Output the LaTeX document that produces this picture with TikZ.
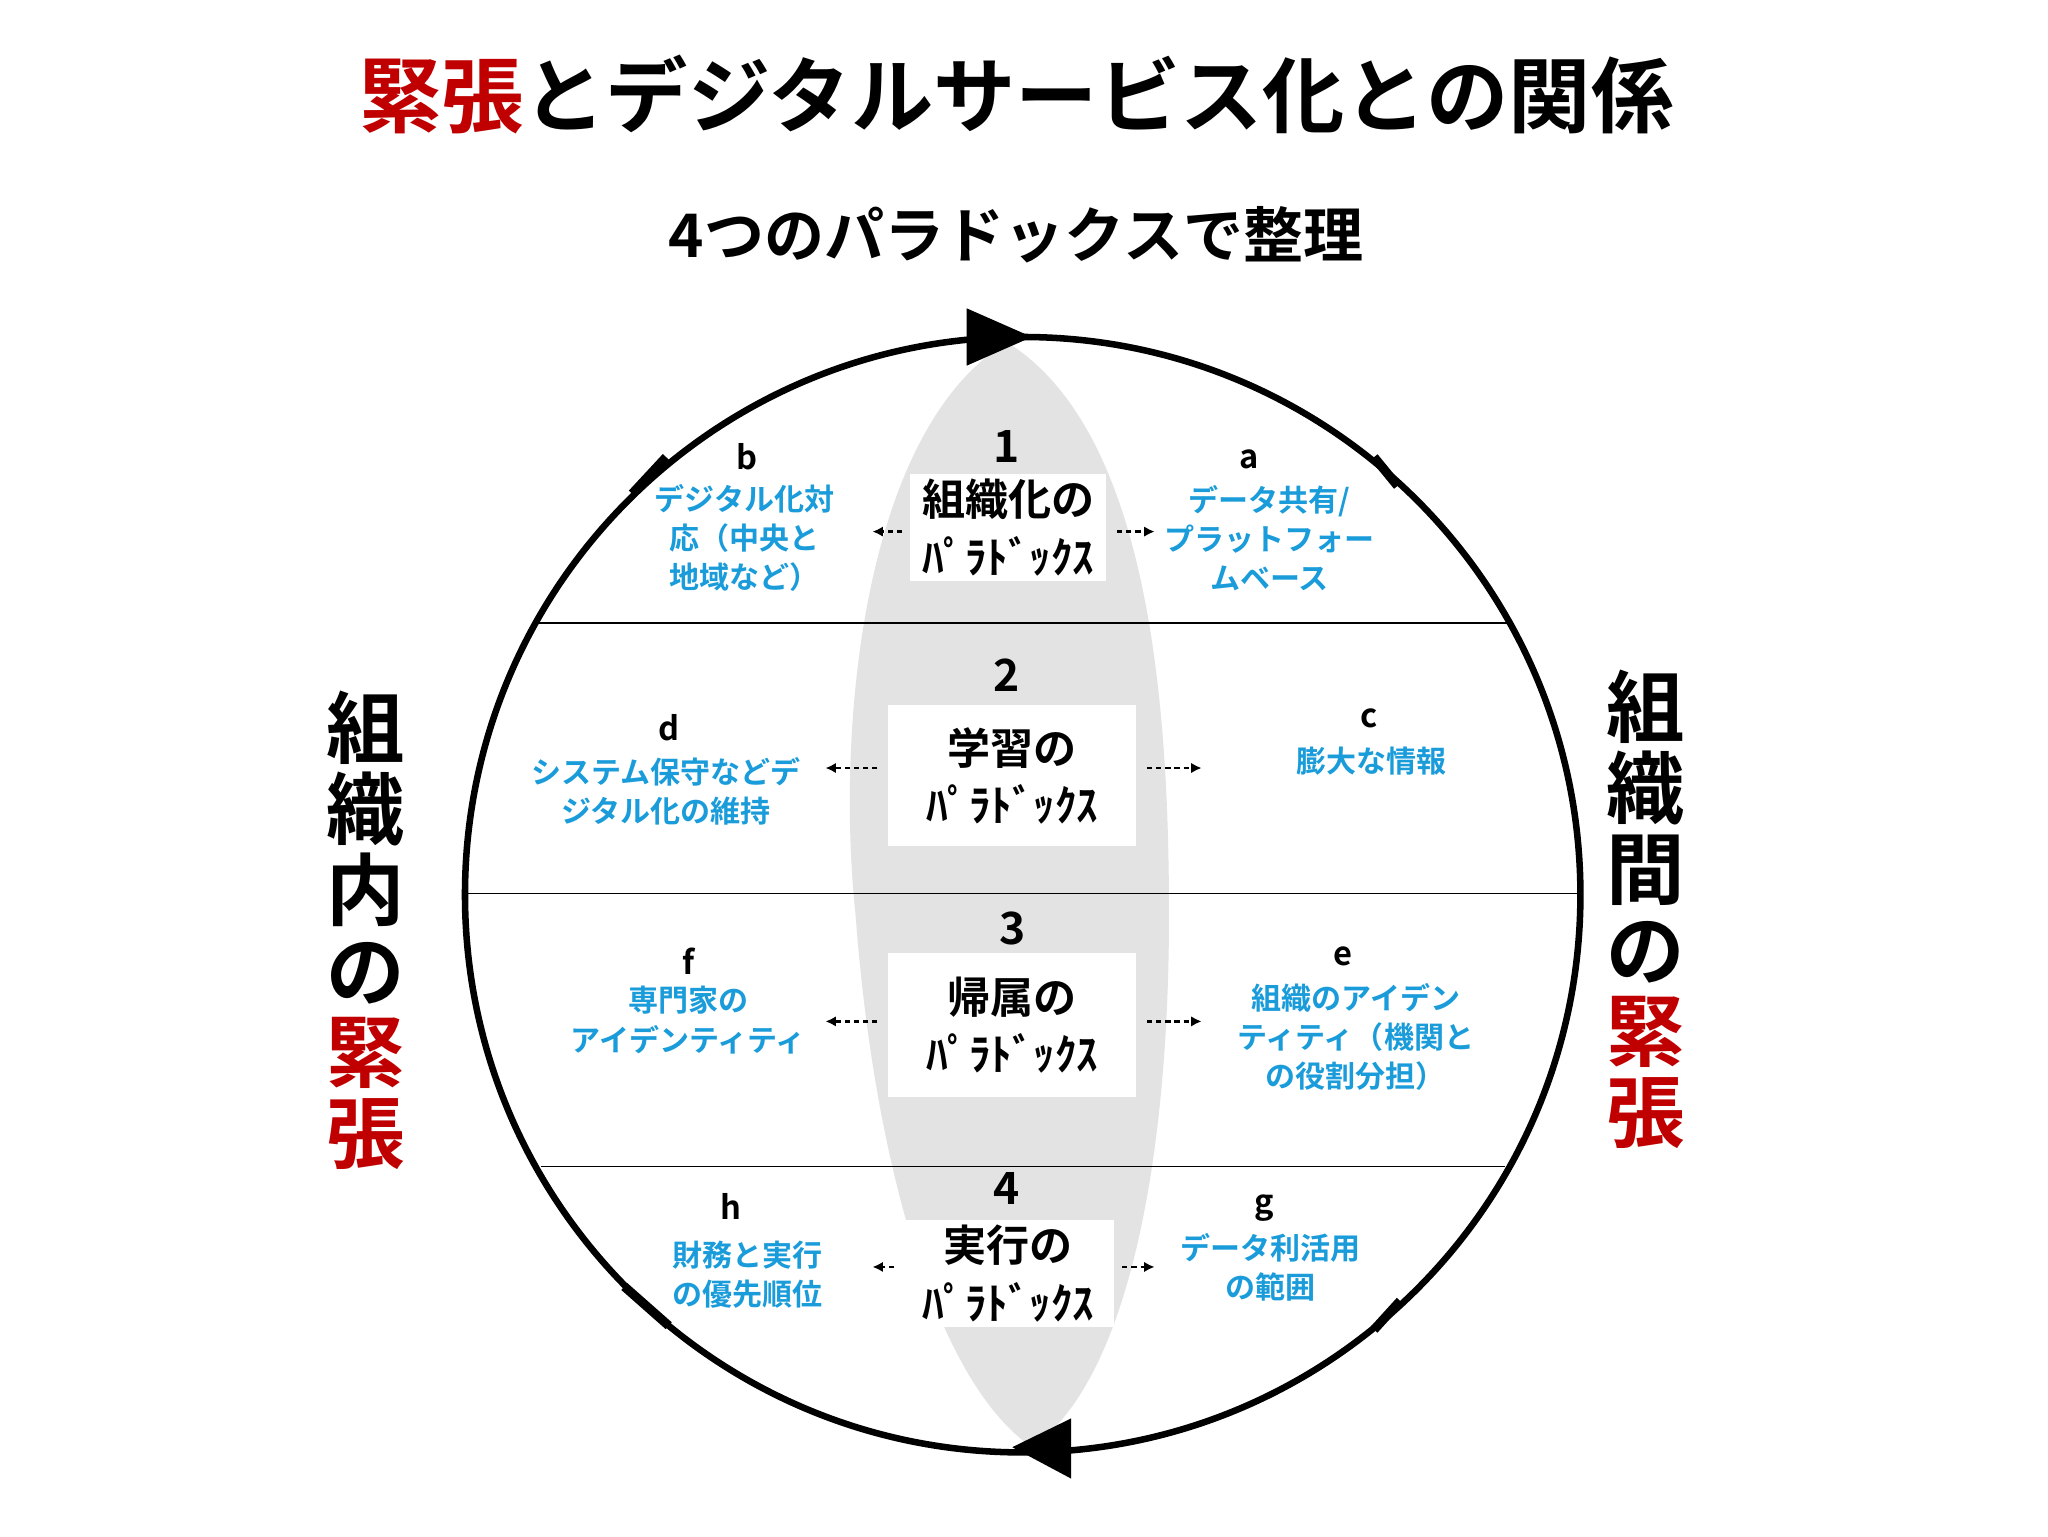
\documentclass[tikz,border=0pt]{standalone}
\usepackage{fontspec}
\setmainfont{Noto Sans CJK JP}[BoldFont=* Bold]
\newfontfamily\jpb{Noto Sans CJK JP Bold}
\usetikzlibrary{arrows.meta}
\definecolor{tblue}{HTML}{1A9CDA}
\definecolor{tred}{HTML}{C00000}
\tikzset{
 blab/.style={text=tblue,font=\jpb\fontsize{23}{30}\selectfont,align=center},
 let/.style={font=\jpb\fontsize{25}{26}\selectfont},
 num/.style={font=\jpb\fontsize{34}{36}\selectfont},
 pbox/.style={fill=white,align=center,font=\jpb\fontsize{33}{44}\selectfont,inner sep=4pt},
 darr/.style={dash pattern=on 4pt off 3pt,line width=1.8pt,-{Latex[length=8pt,width=8pt]}},
 side/.style={font=\jpb\fontsize{60}{62}\selectfont,align=center},
}
\begin{document}
\begin{tikzpicture}[x=1pt,y=-1pt]
\useasboundingbox (0,0) rectangle (1568,1176);
\fill[white] (0,0) rectangle (1568,1176);
\node[font=\jpb\fontsize{63}{66}\selectfont] (title) at (778,72) {\textcolor{tred}{緊張}とデジタルサービス化との関係};
\node[font=\jpb\fontsize{46}{48}\selectfont] (sub) at (778,180) {4つのパラドックスで整理};
% lens
\fill[gray!22] (771,262) .. controls (660,330) and (640,560) .. (655,700) .. controls (670,900) and (720,1060) .. (790,1108) .. controls (860,1060) and (895,900) .. (895,700) .. controls (895,540) and (880,330) .. (771,262);
% chords
\draw[line width=1.3pt] (410,477) -- (1156,477);
\draw[line width=1.3pt] (356,684) -- (1210,684);
\draw[line width=1.3pt] (414,893) -- (1152,893);
% circle
\draw[line width=5pt] (783,685) circle (427);
% ticks
\draw[line width=7pt] (484,378) -- (510,350);
\draw[line width=7pt] (1052,350) -- (1070,372);
\draw[line width=7pt] (478,985) -- (512,1015);
\draw[line width=7pt] (1052,1018) -- (1072,996);
% big arrowheads
\fill (740,236) -- (790,258) -- (740,280) -- cycle;
\fill (820,1086) -- (775,1108) -- (820,1132) -- cycle;
% boxes
\node[pbox,minimum width=150pt] (p1) at (772,404) {組織化の\\ﾊﾟﾗﾄﾞｯｸｽ};
\node[num] (n1) at (771,342) {1};
\node[pbox,minimum width=190pt,minimum height=108pt] (p2) at (775,594) {学習の\\ﾊﾟﾗﾄﾞｯｸｽ};
\node[num] (n2) at (771,517) {2};
\node[pbox,minimum width=190pt,minimum height=110pt] (p3) at (775,785) {帰属の\\ﾊﾟﾗﾄﾞｯｸｽ};
\node[num] (n3) at (775,711) {3};
\node[pbox,minimum width=162pt] (p4) at (772,975) {実行の\\ﾊﾟﾗﾄﾞｯｸｽ};
\node[num] (n4) at (771,910) {4};
% labels
\node[let] (la) at (956,352) {a};
\node[blab] (ta) at (972,412) {データ共有/\\プラットフォー\\ムベース};
\node[let] (lb) at (572,350) {b};
\node[blab] (tb) at (570,412) {デジタル化対\\応（中央と\\地域など）};
\node[let] (lc) at (1048,550) {c};
\node[blab] (tc) at (1050,583) {膨大な情報};
\node[let] (ld) at (512,557) {d};
\node[blab] (td) at (510,606) {システム保守などデ\\ジタル化の維持};
\node[let] (le) at (1028,732) {e};
\node[blab] (te) at (1038,794) {組織のアイデン\\ティティ（機関と\\の役割分担）};
\node[let] (lf) at (527,736) {f};
\node[blab] (tf) at (527,781) {専門家の\\アイデンティティ};
\node[let] (lg) at (968,925) {g};
\node[blab] (tg) at (973,970) {データ利活用\\の範囲};
\node[let] (lh) at (560,924) {h};
\node[blab] (th) at (572,976) {財務と実行\\の優先順位};
% dashed arrows
\coordinate (a1l) at (668,407); \coordinate (a1r) at (884,407);
\draw[darr] (p1.west |- a1l) ++(-6,0) -- (a1l);
\draw[darr] (p1.east |- a1r) ++(8,0) -- (a1r);
\coordinate (a2l) at (632,588); \coordinate (a2r) at (920,588);
\draw[darr] (p2.west |- a2l) ++(-8,0) -- (a2l);
\draw[darr] (p2.east |- a2r) ++(8,0) -- (a2r);
\coordinate (a3l) at (632,782); \coordinate (a3r) at (920,782);
\draw[darr] (p3.west |- a3l) ++(-8,0) -- (a3l);
\draw[darr] (p3.east |- a3r) ++(8,0) -- (a3r);
\coordinate (a4l) at (668,970); \coordinate (a4r) at (884,970);
\draw[darr] (p4.west |- a4l) ++(-6,0) -- (a4l);
\draw[darr] (p4.east |- a4r) ++(6,0) -- (a4r);
% side texts
\node[side] (sl) at (280,712) {組\\織\\内\\の\\\textcolor{tred}{緊}\\\textcolor{tred}{張}};
\node[side] (sr) at (1260,696) {組\\織\\間\\の\\\textcolor{tred}{緊}\\\textcolor{tred}{張}};
\end{tikzpicture}
\end{document}
